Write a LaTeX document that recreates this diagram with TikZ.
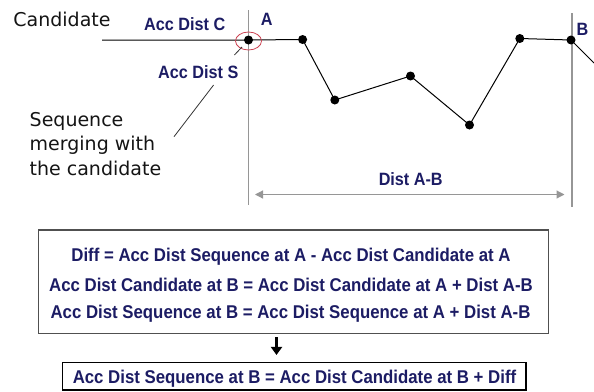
\documentclass[tikz,border=0pt]{standalone}
\usepackage{fontspec}
\setmainfont{Liberation Sans}
\newfontfamily\dejavu{DejaVu Sans}
\usetikzlibrary{arrows.meta,shapes.geometric}
\definecolor{navy}{RGB}{28,28,100}
\definecolor{guide}{RGB}{150,150,150}
\definecolor{ring}{RGB}{205,70,85}
\definecolor{boxgray}{RGB}{80,80,80}
\newcommand{\tallt}[1]{\scalebox{1}[1.1]{#1}}
\begin{document}
\begin{tikzpicture}[x=1pt,y=-1pt,
  blk/.style={inner sep=0pt, anchor=base west, font=\dejavu\fontsize{19}{23}\selectfont, text=black!92},
  lbl/.style={inner sep=0pt, font=\bfseries\fontsize{16.2}{19}\selectfont, text=navy},
  eq/.style={inner sep=0pt, anchor=base, font=\bfseries\fontsize{16.8}{20}\selectfont, text=navy},
  pt/.style={circle, fill=black, inner sep=0pt, minimum size=9pt},
  guideline/.style={draw=guide, line width=1.2pt},
  seg/.style={draw=black, line width=1pt},
  leader/.style={draw=black!80, line width=0.8pt},
  box/.style={draw, inner sep=0pt, line width=1.5pt, fill=white}
]
\useasboundingbox (0,0) rectangle (594,391);

% guide lines at A and B
\coordinate (Atop) at (248.5,10);
\coordinate (Abot) at (248.5,205);
\coordinate (Btop) at (572,13);
\coordinate (Bbot) at (572,207);
\draw[guideline] (Atop) -- (Abot);
\draw[guideline] (Btop) -- (Bbot);

% sequence points
\node[pt] (pA) at (248.5,40) {};
\node[pt] (p1) at (302.6,39.5) {};
\node[pt] (p2) at (334.8,100) {};
\node[pt] (p3) at (410.5,76) {};
\node[pt] (p4) at (469.5,125) {};
\node[pt] (p5) at (519.8,38.5) {};
\node[pt] (pB) at (571,40) {};
\coordinate (cstart) at (102,40);
\coordinate (exit) at (594,63);
\draw[seg] (cstart) -- (pA.center) -- (p1.center) -- (p2.center) -- (p3.center)
  -- (p4.center) -- (p5.center) -- (pB.center) -- (exit);

% red ring at A
\node[draw=ring, ellipse, line width=0.8pt, minimum width=26pt, minimum height=18pt, inner sep=0pt] (ring) at (248.5,41) {};

% labels
\node[blk] (cand) at (13.2,26.7) {Candidate};
\node[lbl, anchor=base west] (accC) at (144,30) {\tallt{Acc Dist C}};
\node[lbl, anchor=base] (labA) at (266.7,25) {\tallt{A}};
\node[lbl, anchor=base] (labB) at (582.5,35) {\tallt{B}};
\node[lbl, anchor=base west] (accS) at (158,78.3) {\tallt{Acc Dist S}};
\node[blk] (seq1) at (29.5,126.7) {Sequence};
\node[blk] (seq2) at (29.5,150.7) {merging with};
\node[blk] (seq3) at (29.5,175) {the candidate};

% leaders
\coordinate (l1a) at (242,47);
\coordinate (l1b) at (234.4,55);
\draw[leader] (l1a) -- (l1b);
\coordinate (l2a) at (213.6,85);
\coordinate (l2b) at (174,136.7);
\draw[leader] (l2a) -- (l2b);

% Dist A-B dimension
\coordinate (dl) at (255,194.5);
\coordinate (dr) at (564.5,194.5);
\draw[guideline, {Triangle[width=8pt,length=8pt]}-{Triangle[width=8pt,length=8pt]}] (dl) -- (dr);
\node[lbl, anchor=base] (distAB) at (410.7,185.7) {\tallt{Dist A-B}};

% equation boxes
\node[box, draw=boxgray, minimum width=509.9pt, minimum height=103.3pt] (box1) at (293.55,281.65) {};
\node[eq] (e1) at (291,261.7) {\tallt{Diff = Acc Dist Sequence at A - Acc Dist Candidate at A}};
\node[eq] (e2) at (291,291.7) {\tallt{Acc Dist Candidate at B = Acc Dist Candidate at A + Dist A-B}};
\node[eq] (e3) at (290.5,318.3) {\tallt{Acc Dist Sequence at B = Acc Dist Sequence at A + Dist A-B}};

\node[box, draw=black, minimum width=463.4pt, minimum height=27.3pt] (box2) at (294.1,376.35) {};
\node[eq] (e4) at (294.5,383.3) {\tallt{Acc Dist Sequence at B = Acc Dist Candidate at B + Diff}};

\coordinate (axis) at (276.5,0);
\draw[line width=2.6pt, -{Triangle[width=11pt,length=8pt]}, shorten <=3pt, shorten >=7pt]
  (box1.south -| axis) -- (box2.north -| axis);
\end{tikzpicture}
\end{document}
